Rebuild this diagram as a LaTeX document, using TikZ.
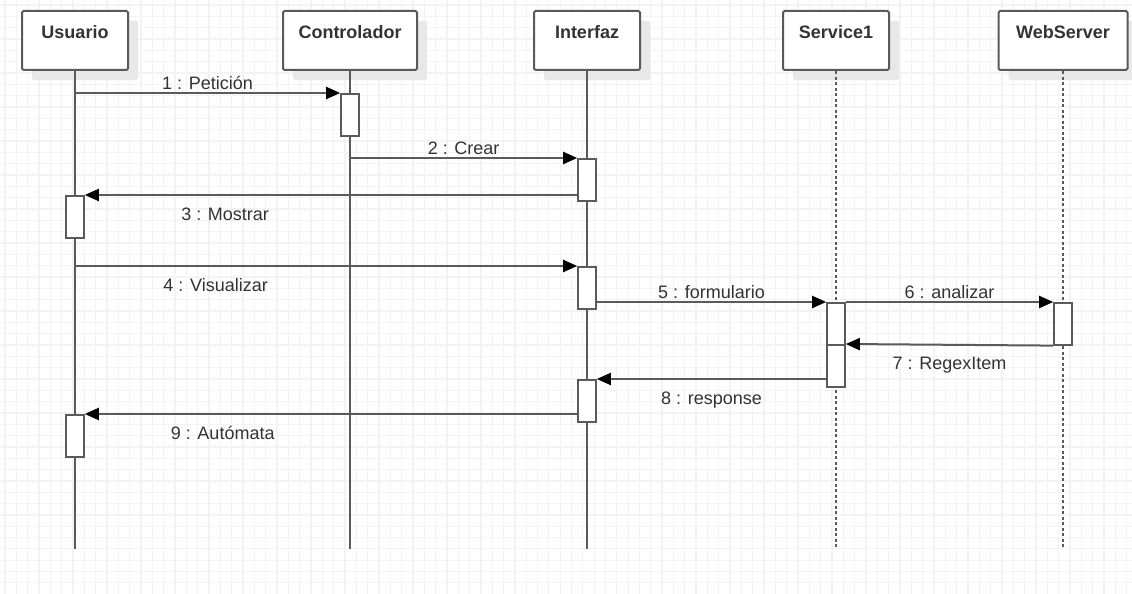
\documentclass[tikz,border=0pt]{standalone}
\usepackage{fontspec}
\setmainfont{Liberation Sans}
\usetikzlibrary{arrows.meta}
\usetikzlibrary{shadows}
\definecolor{lineC}{HTML}{5A5A5A}
\definecolor{gridC}{HTML}{F3F3F3}
\definecolor{shadeC}{HTML}{E8E8E8}
\definecolor{txtC}{HTML}{333333}
\tikzstyle{head} = [draw=lineC, line width=2pt, fill=white, rounded corners=1.5pt, minimum height=59pt, inner sep=0pt, text height=13pt, text depth=17pt, anchor=north, font=\fontsize{18}{20}\selectfont\bfseries, text=txtC, drop shadow={shadow xshift=10pt, shadow yshift=-10pt, fill=shadeC, opacity=1}]
\tikzstyle{act} = [draw=lineC, line width=1.6pt, fill=white, minimum width=18pt, minimum height=42pt, inner sep=0pt, anchor=north]
\tikzstyle{msg} = [draw=lineC, line width=2pt, -{Triangle[length=14pt,width=12pt,black]}]
\tikzstyle{life} = [draw=lineC, line width=2pt]
\tikzstyle{lblup} = [font=\fontsize{18}{20}\selectfont, text=txtC, inner sep=0pt, anchor=base, yshift=4pt]
\tikzstyle{lbldn} = [font=\fontsize{18}{20}\selectfont, text=txtC, inner sep=0pt, anchor=base, yshift=-25pt]

\begin{document}
\begin{tikzpicture}[x=1pt, y=-1pt]
\fill[white] (0,0) rectangle (1132,594);
\useasboundingbox (0,0) rectangle (1132,594);
\foreach \gx in {0,...,99} \draw[gridC, line width=1.3pt] ({5+\gx*11.33},0) -- ({5+\gx*11.33},594);
\foreach \gy in {0,...,52} \draw[gridC, line width=1.3pt] (0,{5+\gy*11.33}) -- (1132,{5+\gy*11.33});

% Define nodes
\node[head, minimum width=106pt] (usr) at (75,10)   {Usuario};
\node[head, minimum width=134pt] (ctl) at (350,10)  {Controlador};
\node[head, minimum width=106pt] (ifz) at (587,10)  {Interfaz};
\node[head, minimum width=106pt] (srv) at (836,10)  {Service1};
\node[head, minimum width=129pt] (web) at (1063,10) {WebServer};

\coordinate (usrEnd) at (75,549);
\coordinate (ctlEnd) at (350,549);
\coordinate (ifzEnd) at (587,549);
\coordinate (srvEnd) at (836,549);
\coordinate (webEnd) at (1063,549);

\draw[life] (usr.south) -- (usrEnd);
\draw[life] (ctl.south) -- (ctlEnd);
\draw[life] (ifz.south) -- (ifzEnd);
\draw[life, dash pattern=on 3pt off 2.5pt] (srv.south) -- (srvEnd);
\draw[life, dash pattern=on 3pt off 2.5pt] (web.south) -- (webEnd);

\node[act] (c1) at (350,93)  {};
\node[act] (i1) at (587,158) {};
\node[act] (u1) at (75,195)  {};
\node[act] (i2) at (587,266) {};
\node[act] (s1) at (836,302) {};
\node[act] (w1) at (1063,302) {};
\node[act] (s2) at (836,344) {};
\node[act] (i3) at (587,379) {};
\node[act] (u2) at (75,414)  {};

% Edges
\draw[msg] (usr.south |- c1.north) -- (c1.north west) node[lblup, pos=0.5] {1 : Petición};
\draw[msg] (ctl.south |- i1.north) -- (i1.north west) node[lblup, pos=0.5] {2 : Crear};
\draw[msg] (i1.west |- u1.north)   -- (u1.north east) node[lbldn, pos=0.715] {3 : Mostrar};
\draw[msg] (usr.south |- i2.north) -- (i2.north west) node[lbldn, pos=0.28] {4 : Visualizar};
\draw[msg] (i2.east |- s1.north)   -- (s1.north west) node[lblup, pos=0.5] {5 : formulario};
\draw[msg] (s1.north east)         -- (w1.north west) node[lblup, pos=0.5] {6 : analizar};
\draw[msg] (w1.south west)         -- (s2.north east) node[lbldn, pos=0.5] {7 : RegexItem};
\draw[msg] (s2.west |- i3.north)   -- (i3.north east) node[lbldn, pos=0.5] {8 : response};
\draw[msg] (i3.west |- u2.north)   -- (u2.north east) node[lbldn, pos=0.72] {9 : Autómata};
\end{tikzpicture}
\end{document}
